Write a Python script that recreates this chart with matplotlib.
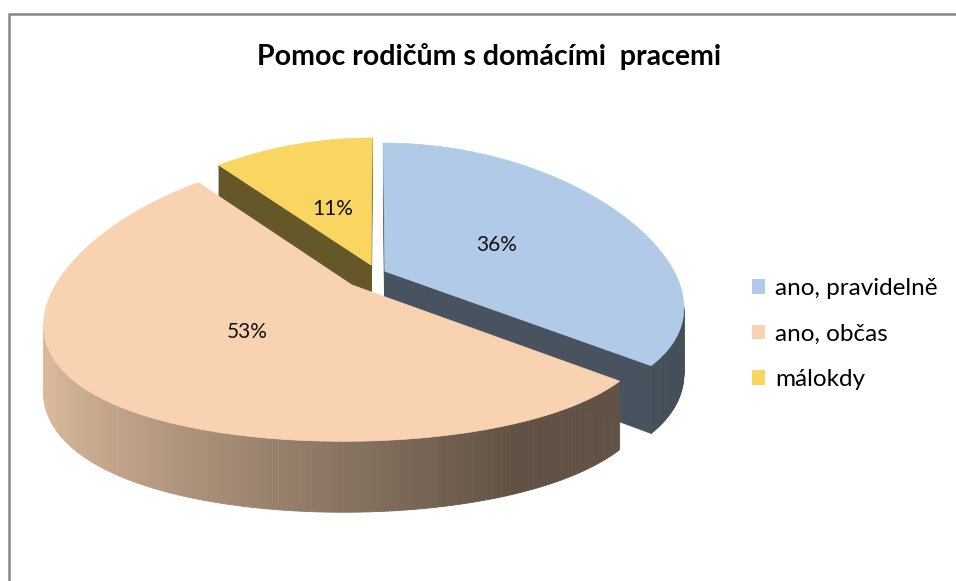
import numpy as np
import matplotlib.pyplot as plt
from matplotlib.patches import Polygon, Patch
from matplotlib.collections import PolyCollection

plt.rcParams["font.family"] = ["Lato", "DejaVu Sans"]

title = "Pomoc rodičům s domácími  pracemi"
labels = ["ano, pravidelně", "ano, občas", "málokdy"]
values = [36, 53, 11]
top_colors = ["#B0CAE8", "#F9D3B1", "#F9D562"]
explode = [0.03, 0.12, 0.06]

# pie plane: u to the right, v towards the viewer; projected into pixel space
CX, CY = 377, 273
AX, BY = 290, 140
QX, QY = 0.25, 0.09
DEPTH = 64
CAM = 1 / QX


def project(u, v, down=0.0):
    u = np.asarray(u, dtype=float)
    v = np.asarray(v, dtype=float)
    return CX + AX * u / (1 - QX * v), CY + (BY * v + down) / (1 - QY * v)


def shade(rgb, f):
    return tuple(np.clip(np.array(rgb) * f, 0, 1))


fig = plt.figure(figsize=(9.56, 5.81), dpi=100)
ax = fig.add_axes([0, 0, 1, 1])
ax.set_xlim(0, 956)
ax.set_ylim(581, 0)
ax.axis("off")

# chart frame
ax.plot([9.5, 9.5, 956], [581, 13.5, 13.5], color="#888888", lw=1.8,
        solid_joinstyle="miter")

total = float(sum(values))
bounds = np.concatenate([[0], np.cumsum(values)]) / total * 2 * np.pi
slices = []
for i, val in enumerate(values):
    a0, a1 = bounds[i], bounds[i + 1]
    mid = (a0 + a1) / 2
    ou, ov = explode[i] * np.sin(mid), -explode[i] * np.cos(mid)
    slices.append((i, a0, a1, mid, ou, ov))

# paint back slices first
for i, a0, a1, mid, ou, ov in sorted(slices, key=lambda s: s[5]):
    base = plt.matplotlib.colors.to_rgb(top_colors[i])

    # radial cut faces
    for ang, sign in ((a0, -1), (a1, 1)):
        nu, nv = sign * np.cos(ang), sign * np.sin(ang)
        mu, mv = ou + 0.5 * np.sin(ang), ov - 0.5 * np.cos(ang)
        if nu * (0 - mu) + nv * (CAM - mv) <= 0:
            continue
        ru, rv = ou + np.sin(ang), ov - np.cos(ang)
        pts = [project(ou, ov), project(ru, rv), project(ru, rv, DEPTH),
               project(ou, ov, DEPTH)]
        ax.add_patch(Polygon(pts, closed=True, fc=shade(base, 0.41),
                             ec=shade(base, 0.41), lw=0.5))

    # outer rim, shaded left to right
    phi = np.linspace(a0, a1, 240)
    u = ou + np.sin(phi)
    v = ov - np.cos(phi)
    tx, ty = project(u, v)
    bx, by = project(u, v, DEPTH)
    quads, cols = [], []
    for k in range(len(phi) - 1):
        pm = (phi[k] + phi[k + 1]) / 2
        um, vm = ou + np.sin(pm), ov - np.cos(pm)
        if np.sin(pm) * (0 - um) - np.cos(pm) * (CAM - vm) <= 0:
            continue
        quads.append([(tx[k], ty[k]), (tx[k + 1], ty[k + 1]),
                      (bx[k + 1], by[k + 1]), (bx[k], by[k])])
        f = np.interp(um, [-1.0, 0.35], [0.88, 0.39])
        cols.append(shade(base, f))
    if quads:
        ax.add_collection(PolyCollection(quads, facecolors=cols,
                                         edgecolors=cols, linewidths=0.6))

    # top face
    cxp, cyp = project(ou, ov)
    top = [(cxp, cyp)] + list(zip(tx, ty))
    ax.add_patch(Polygon(top, closed=True, fc=base, ec=base, lw=0.5))

    lx, ly = project(ou + 0.45 * np.sin(mid), ov - 0.45 * np.cos(mid))
    ax.text(lx, ly, f"{values[i]}%", ha="center", va="center",
            fontsize=15, color="#111111")

fig.text(489 / 956, 1 - 57 / 581, title, ha="center", va="center",
         fontsize=20.5, fontweight="bold", color="black")

handles = [Patch(facecolor=c, edgecolor="none") for c in top_colors]
ax.legend(handles, labels, loc="center left",
          bbox_to_anchor=(752, 334), bbox_transform=ax.transData,
          frameon=False, fontsize=17.5, handlelength=0.55, handleheight=0.55,
          handletextpad=0.4, labelspacing=1.0, borderpad=0, borderaxespad=0)

fig.savefig("out.png", dpi=100)
